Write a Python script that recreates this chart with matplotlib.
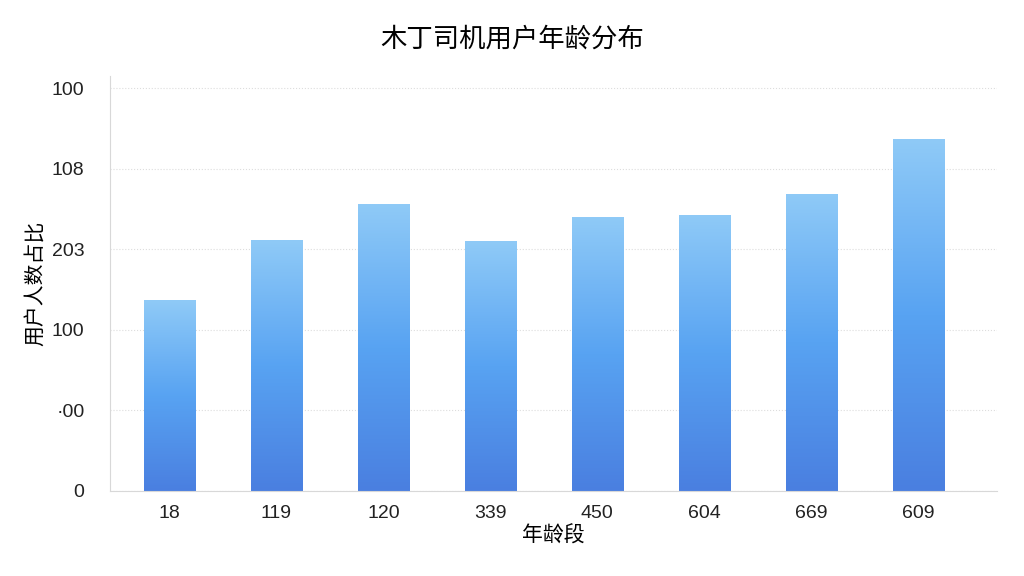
import numpy as np
import matplotlib.pyplot as plt
from matplotlib.colors import LinearSegmentedColormap

plt.rcParams['font.family'] = ['Noto Sans CJK SC', 'DejaVu Sans']

age_labels = ["18", "119", "120", "339", "450", "604", "669", "609"]
values = [237, 311, 356, 310, 340, 343, 369, 437]
ytick_vals = [0, 100, 200, 300, 400, 500]
ytick_labels = ["0", "·00", "100", "203", "108", "100"]

fig = plt.figure(figsize=(10.24, 5.76), dpi=100)
ax = fig.add_axes([0.107, 0.148, 0.867, 0.72])

cmap = LinearSegmentedColormap.from_list("bar", ["#4a7fe0", "#58a3f2", "#8fcaf7"])
grad = np.linspace(0, 1, 256).reshape(-1, 1)
x = np.arange(len(values))
width = 0.48
for xi, v in zip(x, values):
    bar = ax.bar(xi, v, width=width, color='none', zorder=2)[0]
    im = ax.imshow(grad, cmap=cmap, aspect='auto', origin='lower',
                   extent=[xi - width / 2, xi + width / 2, 0, v], zorder=2)
    im.set_clip_path(bar)
ax.set_aspect('auto')
ax.set_xlim(-0.56, 7.74)
ax.set_ylim(0, 515)

ax.set_xticks(x)
ax.set_xticklabels(age_labels, fontsize=14, color='#222222', family='Liberation Sans')
ax.set_yticks(ytick_vals)
ax.set_yticklabels(ytick_labels, fontsize=14, color='#222222', family='Liberation Sans')
ax.tick_params(axis='both', length=0, pad=10)
ax.tick_params(axis='y', pad=18)
ax.grid(axis='y', linestyle=':', color='#dddddd', linewidth=0.8, zorder=0)
for s in ['top', 'right']:
    ax.spines[s].set_visible(False)
for s in ['left', 'bottom']:
    ax.spines[s].set_color('#d8d8d8')

ax.set_xlabel("年龄段", fontsize=15, labelpad=2)
ax.set_ylabel("用户人数占比", fontsize=15, labelpad=4)
fig.suptitle("木丁司机用户年龄分布", fontsize=19, y=0.955)

fig.savefig("out.png", dpi=100)
